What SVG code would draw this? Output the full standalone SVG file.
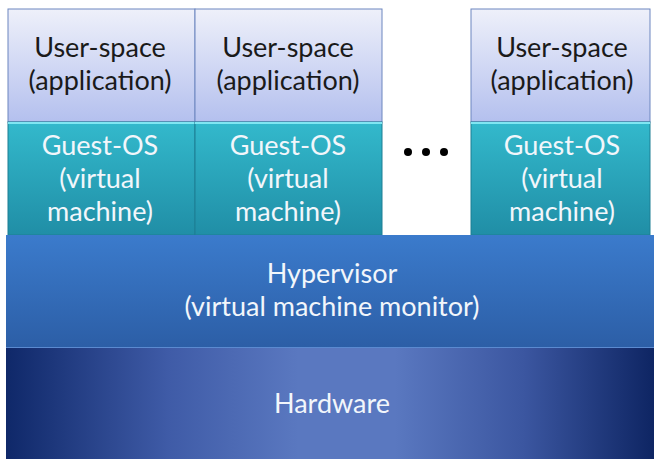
<svg xmlns="http://www.w3.org/2000/svg" width="654" height="459" viewBox="0 0 654 459">
<defs>
<linearGradient id="gUser" x1="0" y1="0" x2="0" y2="1"><stop offset="0" stop-color="#eef0fa"/><stop offset="1" stop-color="#b4c0ee"/></linearGradient>
<linearGradient id="gGuest" x1="0" y1="0" x2="0" y2="1"><stop offset="0" stop-color="#33b9cc"/><stop offset="1" stop-color="#208ea6"/></linearGradient>
<linearGradient id="gHyp" x1="0" y1="0" x2="0" y2="1"><stop offset="0" stop-color="#3b7bcc"/><stop offset="1" stop-color="#2c5ea6"/></linearGradient>
<linearGradient id="gHw" x1="0" y1="0" x2="1" y2="0"><stop offset="0" stop-color="#0f2869"/><stop offset="0.25" stop-color="#3f5ba7"/><stop offset="0.45" stop-color="#5a78c0"/><stop offset="0.6" stop-color="#5a78c0"/><stop offset="0.8" stop-color="#3b56a0"/><stop offset="1" stop-color="#0e2563"/></linearGradient>
</defs>
<style>
.user{fill:url(#gUser);stroke:#6d86bf;stroke-width:1}
.guest{fill:url(#gGuest);stroke:#1d7f94;stroke-width:1}
.hl{stroke:#7fe6f2;stroke-width:2}
.dk{font-family:Lato,"Open Sans","Liberation Sans",sans-serif;font-size:27px;fill:#1a1a1a;text-anchor:middle}
.lt{font-family:Lato,"Open Sans","Liberation Sans",sans-serif;font-size:27px;fill:#f2f6fb;text-anchor:middle}
</style>
<rect width="654" height="459" fill="#ffffff"/>
<g id="vm1">
<rect class="user" x="8" y="9" width="187" height="113"/>
<text class="dk" x="100" y="57">User-space</text>
<text class="dk" x="100" y="90">(application)</text>
<rect class="guest" x="8" y="122" width="187" height="113"/>
<line class="hl" x1="8" y1="123" x2="195" y2="123"/>
<text class="lt" x="100" y="155">Guest-OS</text>
<text class="lt" x="100" y="188">(virtual</text>
<text class="lt" x="100" y="221">machine)</text>
</g>
<g id="vm2">
<rect class="user" x="195" y="9" width="187" height="113"/>
<text class="dk" x="288" y="57">User-space</text>
<text class="dk" x="288" y="90">(application)</text>
<rect class="guest" x="195" y="122" width="187" height="113"/>
<line class="hl" x1="195" y1="123" x2="382" y2="123"/>
<text class="lt" x="288" y="155">Guest-OS</text>
<text class="lt" x="288" y="188">(virtual</text>
<text class="lt" x="288" y="221">machine)</text>
</g>
<g id="dots" fill="#000">
<circle cx="408" cy="152" r="4"/>
<circle cx="426" cy="152" r="4"/>
<circle cx="444" cy="152" r="4"/>
</g>
<g id="vm3">
<rect class="user" x="471" y="9" width="179" height="113"/>
<text class="dk" x="562" y="57">User-space</text>
<text class="dk" x="562" y="90">(application)</text>
<rect class="guest" x="471" y="122" width="179" height="113"/>
<line class="hl" x1="471" y1="123" x2="650" y2="123"/>
<text class="lt" x="562" y="155">Guest-OS</text>
<text class="lt" x="562" y="188">(virtual</text>
<text class="lt" x="562" y="221">machine)</text>
</g>
<g id="hypervisor">
<rect x="6" y="235" width="648" height="113" fill="url(#gHyp)"/>
<line x1="6" y1="347.5" x2="654" y2="347.5" stroke="#5b8ad0" stroke-width="1"/>
<text class="lt" x="332" y="283">Hypervisor</text>
<text class="lt" x="332" y="316">(virtual machine monitor)</text>
</g>
<g id="hardware">
<rect x="6" y="348" width="648" height="111" fill="url(#gHw)"/>
<text class="lt" x="332" y="413">Hardware</text>
</g>
<g id="connectors"/>
</svg>
